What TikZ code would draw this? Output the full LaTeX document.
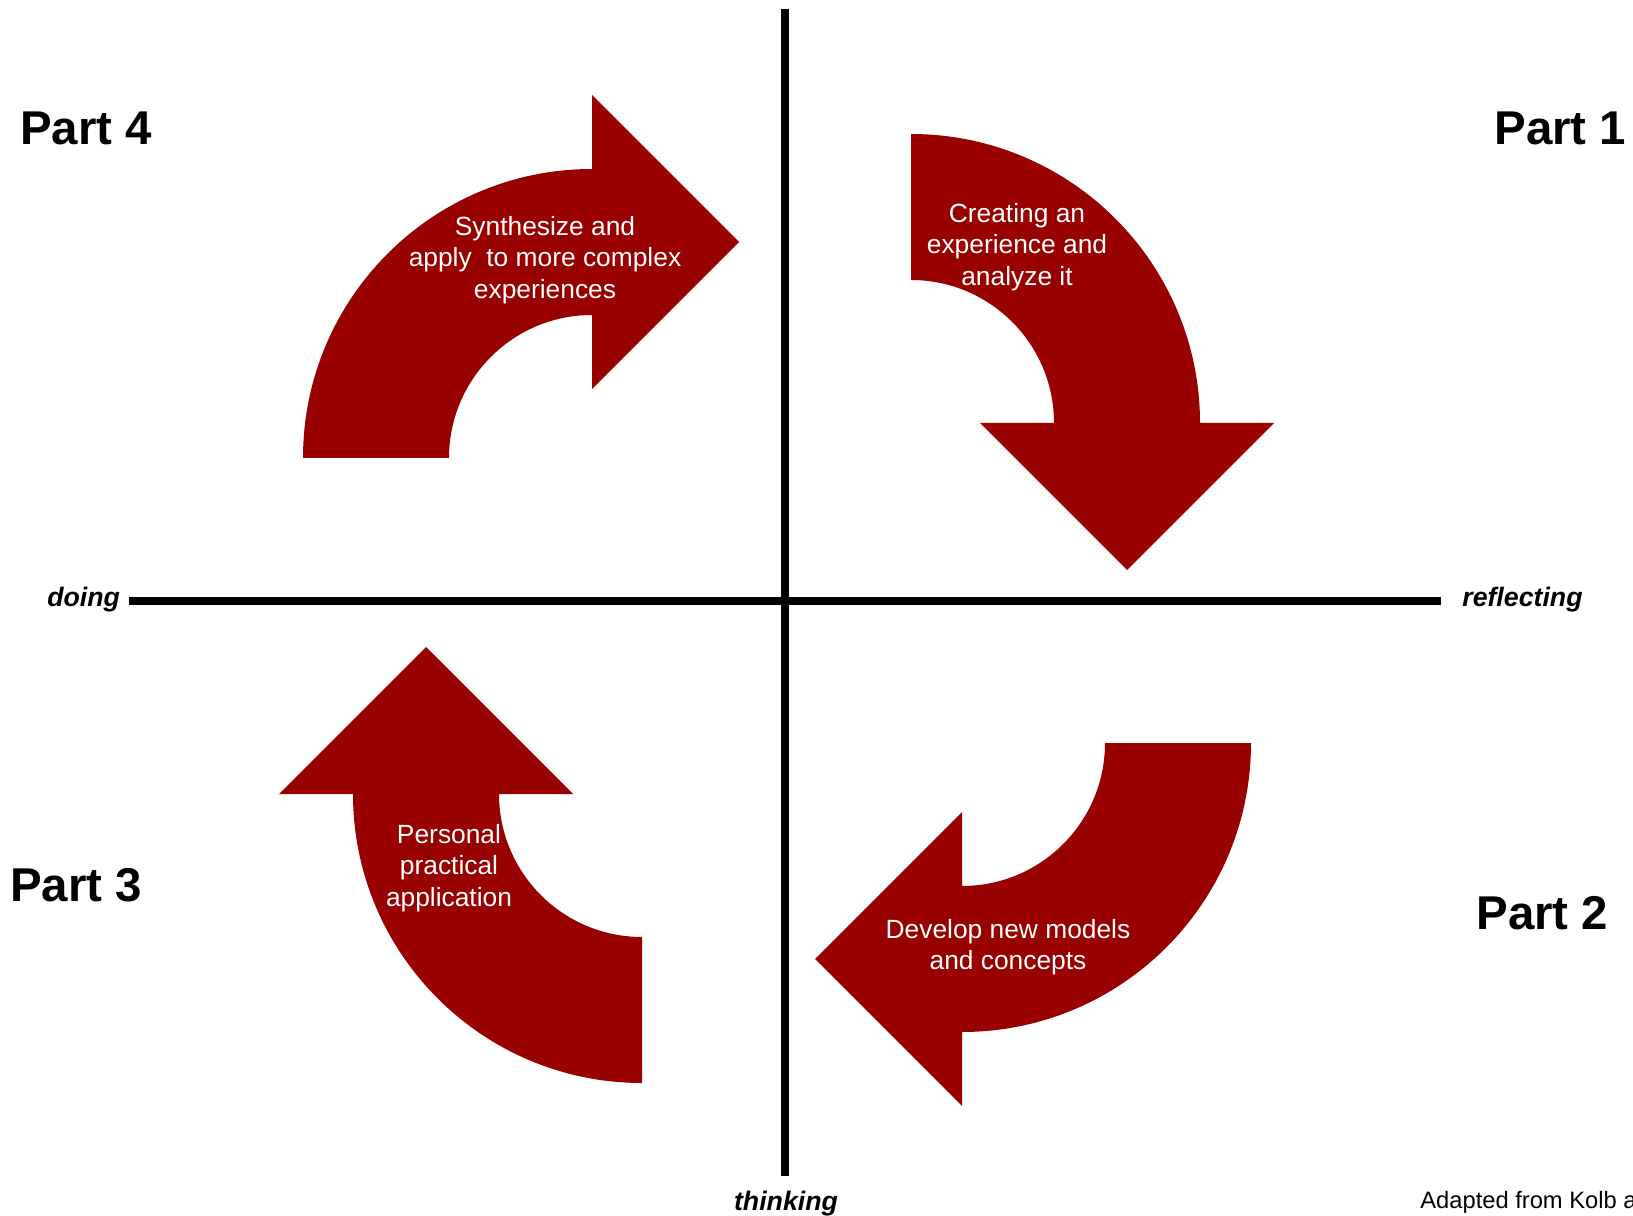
\documentclass[tikz,border=0pt]{standalone}
\usepackage{fontspec}
\setmainfont{Liberation Sans}
\definecolor{kolbred}{HTML}{990000}

\begin{document}
\begin{tikzpicture}[x=0.02cm, y=0.02cm,
        arrowfill/.style={fill=kolbred},
        arrowtext/.style={text=white, align=center, font=\fontsize{15}{18}\selectfont},
        partlabel/.style={anchor=base west, inner sep=0pt, font=\fontsize{27}{31}\selectfont\bfseries},
        axislabel/.style={inner sep=0pt, font=\fontsize{15.2}{18}\selectfont\bfseries\itshape},
        axisline/.style={line width=4.5pt}]
        \useasboundingbox (0,0) rectangle (1633,1215);

        % Setup the axes
        \coordinate (west) at (129,614);
        \coordinate (east) at (1441,614);
        \coordinate (north) at (785,1206);
        \coordinate (south) at (785,39);
        \draw[axisline] (west) -- (east);
        \draw[axisline] (north) -- (south);

        % Label the axes
        \node[axislabel, anchor=base west] (doing) at (47,608) {doing};
        \node[axislabel, anchor=base west] (reflecting) at (1462,608) {reflecting};
        \node[axislabel, anchor=base] (thinking) at (786,5) {thinking};

        % The four curved arrows, all turning clockwise
        \fill[arrowfill, shift={(592,757)}]
            (-289,0) arc (180:90:289) -- (0,363) -- (147,216) -- (0,69) -- (0,143) arc (90:180:143) -- cycle;
        \fill[arrowfill, shift={(911,792)}, rotate=-90]
            (-289,0) arc (180:90:289) -- (0,363) -- (147,216) -- (0,69) -- (0,143) arc (90:180:143) -- cycle;
        \fill[arrowfill, shift={(962,472)}, rotate=180]
            (-289,0) arc (180:90:289) -- (0,363) -- (147,216) -- (0,69) -- (0,143) arc (90:180:143) -- cycle;
        \fill[arrowfill, shift={(642,421)}, rotate=90]
            (-289,0) arc (180:90:289) -- (0,363) -- (147,216) -- (0,69) -- (0,143) arc (90:180:143) -- cycle;

        % Text on the arrows
        \node[arrowtext] (synth) at (545,955) {Synthesize and\\apply~ to more complex\\experiences};
        \node[arrowtext] (create) at (1017,968) {Creating an\\experience and\\analyze it};
        \node[arrowtext] (develop) at (1008,268) {Develop new models\\and concepts};
        \node[arrowtext] (personal) at (449,347) {Personal\\practical\\application};

        % Label the parts
        \node[partlabel] (partfour) at (20,1070) {Part 4};
        \node[partlabel] (partone) at (1494,1070) {Part 1};
        \node[partlabel] (partthree) at (10,314) {Part 3};
        \node[partlabel] (parttwo) at (1476,286) {Part 2};

        % Source
        \node[anchor=base west, inner sep=0pt, font=\fontsize{13.5}{16}\selectfont] (credit) at (1420,7) {Adapted from Kolb a};
    \end{tikzpicture}
\end{document}
